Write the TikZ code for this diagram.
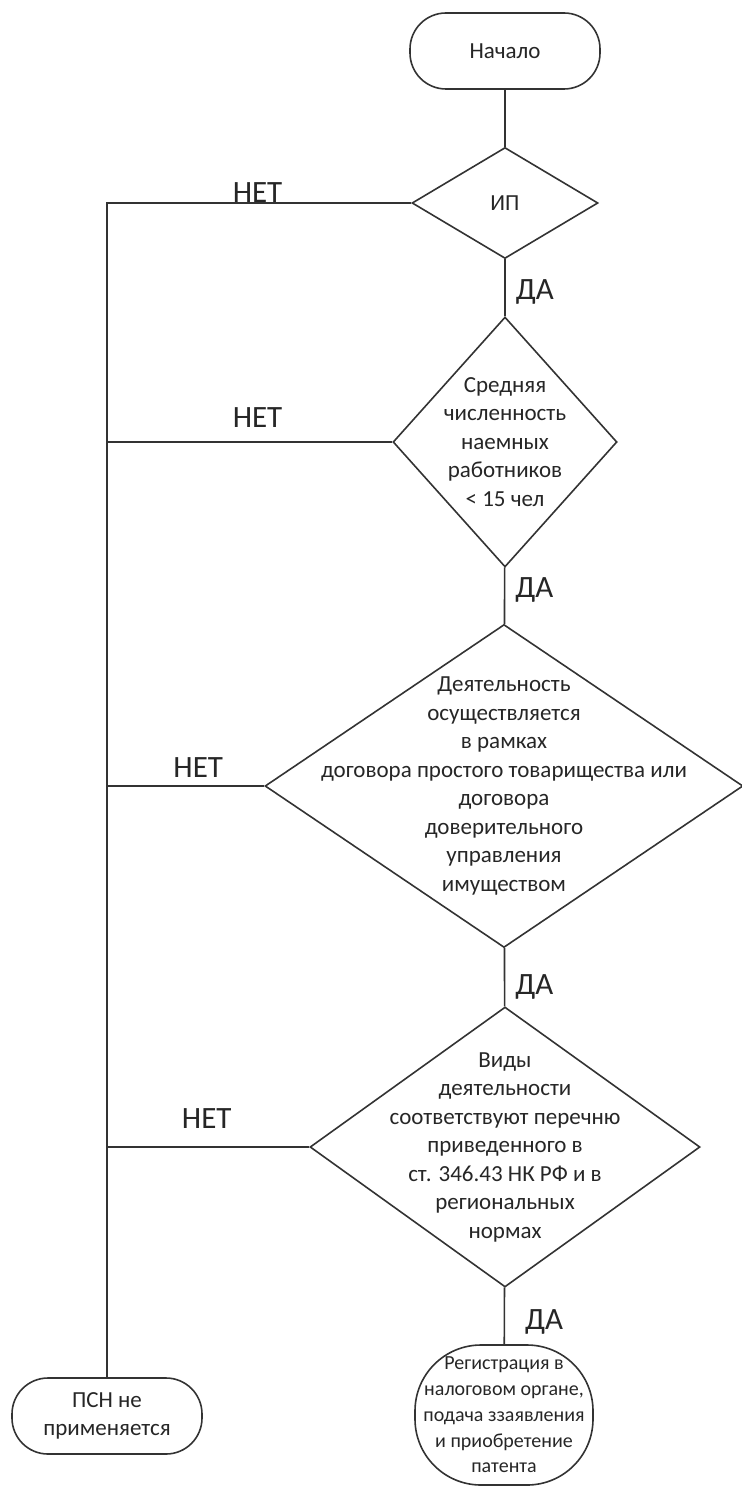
\documentclass[tikz,border=0pt]{standalone}
\usepackage{fontspec}
\setmainfont{Carlito}
\usetikzlibrary{shapes.geometric}

\begin{document}
\begin{tikzpicture}[
  x=.5pt,y=-.5pt,
  line/.style={draw=black!80,line width=.8pt},
  txt/.style={
    font=\fontsize{11.5}{14.25}\selectfont,text=black!85,
    align=center,inner sep=0pt
  },
  terminal/.style={
    line,rectangle,rounded corners=18pt,minimum width=95pt,
    minimum height=38pt,txt
  },
  decision/.style={line,diamond,inner sep=0pt},
  cond/.style={txt},
  yes/.style={
    font=\fontsize{15.5}{18}\selectfont,text=black!85,
    anchor=west,inner sep=0pt,xshift=5pt
  },
  no/.style={
    font=\fontsize{15.5}{18}\selectfont,text=black!85,
    anchor=south,inner sep=0pt
  }
]
  \useasboundingbox (0,0) rectangle (741,1486);

  % main column of checks
  \node[terminal] (start) at (505,51) {Начало};
  \node[decision,minimum width=93pt,minimum height=55.5pt,
    label={[cond]center:ИП}] (ip) at (505,203) {};
  \node[decision,minimum width=112pt,minimum height=125pt,
    label={[cond]center:{Средняя\\численность\\наемных\\работников\\< 15 чел}}]
    (staff) at (505,442) {};
  \node[decision,minimum width=239pt,minimum height=161.5pt,
    label={[cond]center:{Деятельность\\осуществляется\\в рамках\\договора простого товарищества или\\договора\\доверительного\\управления\\имуществом}}]
    (contract) at (504,786) {};
  \node[decision,minimum width=195pt,minimum height=140pt,
    label={[cond]center:{Виды\\деятельности\\соответствуют перечню\\приведенного в\\ст. 346.43 НК РФ и в\\региональных\\нормах}}]
    (kinds) at (505,1147) {};

  % outcomes
  \node[terminal] (psn) at (107,1416) {ПСН не\\применяется};
  \node[terminal,rounded corners=33pt,minimum width=89pt,minimum height=70pt,
    font=\fontsize{10}{12.85}\selectfont]
    (reg) at (504,1415)
    {Регистрация в\\налоговом органе,\\подача ззаявления\\и приобретение\\патента};

  \draw[line] (start) -- (ip);
  \draw[line] (ip) -- node[yes,pos=.58] {ДА} (staff);
  \draw[line] (staff) -- node[yes,pos=.40] {ДА} (contract);
  \draw[line] (contract) -- node[yes,pos=.66] {ДА} (kinds);
  \draw[line] (kinds) -- node[yes,pos=.60,xshift=5pt] {ДА} (reg);

  \draw[line] (ip.west) -- node[no,pos=.505] {НЕТ} (ip.west -| psn.north)
    -- (psn.north);
  \draw[line] (staff.west) -- node[no,pos=.472,above=7pt] {НЕТ}
    (staff.west -| psn.north);
  \draw[line] (contract.west) -- node[no,pos=.42,above=4pt] {НЕТ}
    (contract.west -| psn.north);
  \draw[line] (kinds.west) -- node[no,pos=.507,above=9pt] {НЕТ}
    (kinds.west -| psn.north);
\end{tikzpicture}
\end{document}
